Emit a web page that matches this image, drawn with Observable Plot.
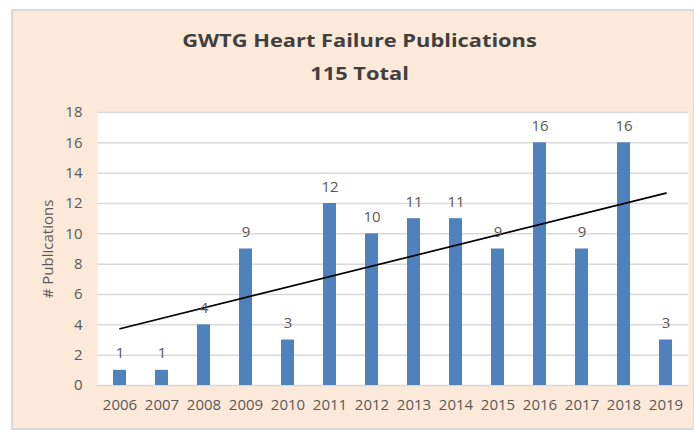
<!DOCTYPE html>
<html>
<head>
<meta charset="utf-8">
<script src="https://cdn.jsdelivr.net/npm/d3@7"></script>
<script src="https://cdn.jsdelivr.net/npm/@observablehq/plot@0.6"></script>
<style>
  html, body { margin: 0; padding: 0; background: #ffffff; }
  #wrap { position: relative; width: 694px; height: 434px; overflow: hidden; }
  #bg { position: absolute; left: 11px; top: 9px; width: 680px; height: 417px;
        background: #fde9d9; border: 2px solid #d9d9d9; }
  #title { position: absolute; left: 0; top: 23px; width: 719px; text-align: center;
           font-family: "Open Sans", sans-serif; font-weight: 700; font-size: 18.5px;
           line-height: 33px; color: #404040; transform: scaleX(1.18); transform-origin: 359.5px 0; }
  #chart { position: absolute; left: 0; top: 0; }
</style>
</head>
<body>
<div id="wrap">
  <div id="bg"></div>
  <div id="chart"></div>
  <div id="title">GWTG Heart Failure Publications<br>115 Total</div>
</div>
<script>
const years = ["2006","2007","2008","2009","2010","2011","2012","2013","2014","2015","2016","2017","2018","2019"];
const publications = [1, 1, 4, 9, 3, 12, 10, 11, 11, 9, 16, 9, 16, 3];
const yTicks = [0, 2, 4, 6, 8, 10, 12, 14, 16, 18];
const yLabel = "# Publications";

const data = years.map((year, i) => ({year, count: publications[i]}));

// Linear trendline (least squares over year index), as in the spreadsheet chart
const n = publications.length;
const xs = publications.map((_, i) => i + 1);
const mx = d3.mean(xs), my = d3.mean(publications);
const slope = d3.sum(xs, (x, i) => (x - mx) * (publications[i] - my)) / d3.sum(xs, x => (x - mx) ** 2);
const intercept = my - slope * mx;
const trend = [
  {year: years[0], value: intercept + slope * xs[0]},
  {year: years[n - 1], value: intercept + slope * xs[n - 1]}
];

const chart = Plot.plot({
  width: 694,
  height: 434,
  marginLeft: 97,
  marginRight: 6,
  marginTop: 112,
  marginBottom: 49,
  style: {background: "transparent", fontFamily: "Open Sans, sans-serif", fontSize: "15px", color: "#595959"},
  x: {type: "band", domain: years, paddingInner: 0.69, paddingOuter: 0.345, label: null},
  y: {domain: [0, 18], label: null},
  marks: [
    Plot.frame({fill: "white", stroke: null}),
    Plot.gridY(yTicks, {stroke: "#d9d9d9", strokeOpacity: 1, strokeWidth: 1.5}),
    Plot.barY(data, {x: "year", y: "count", fill: "#4f81bd"}),
    Plot.line(trend, {x: "year", y: "value", stroke: "#000000", strokeWidth: 1.7}),
    Plot.text(data, {x: "year", y: "count", text: d => String(d.count), dy: -12, lineAnchor: "bottom",
                     fill: "#595959", fontSize: 15}),
    Plot.axisX({tickSize: 0, tickPadding: 14, fontSize: 15, fill: "#595959", label: null}),
    Plot.axisY({ticks: yTicks, tickSize: 0, tickPadding: 15, fontSize: 15, fill: "#595959", label: null}),
    Plot.text([yLabel], {frameAnchor: "left", text: d => d, rotate: -90, dx: -49, lineAnchor: "middle",
                         textAnchor: "middle", fill: "#595959", fontSize: 15})
  ]
});
document.getElementById("chart").appendChild(chart);
</script>
</body>
</html>
